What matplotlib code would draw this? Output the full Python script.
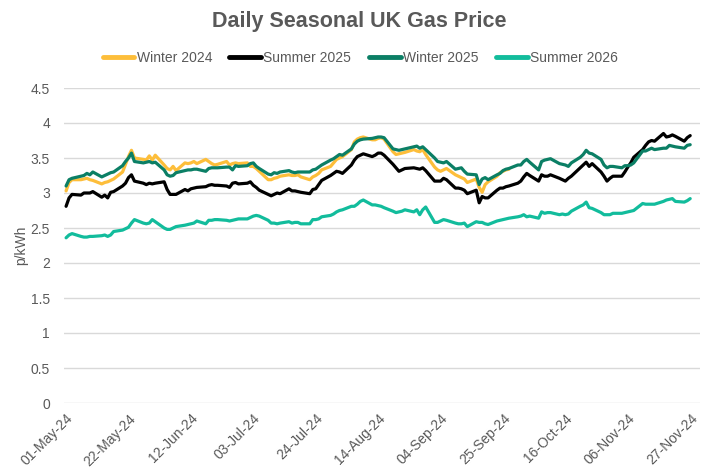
import matplotlib
matplotlib.use("Agg")
import matplotlib.pyplot as plt
import pandas as pd
import numpy as np

plt.rcParams['font.family'] = ['Liberation Sans', 'DejaVu Sans']

dates = pd.bdate_range('2024-05-01', '2024-11-27')

series_names = ['Winter 2024', 'Summer 2025', 'Winter 2025', 'Summer 2026']

winter_2024 = [
    3.03, 3.15, 3.19, 3.19, 3.20, 3.21, 3.19, 3.18, 3.13, 3.15, 3.16, 3.18, 3.20, 3.30, 3.41, 3.52, 3.61, 3.50, 3.48, 3.47, 3.53, 3.47, 3.54,
    3.40, 3.35, 3.33, 3.38, 3.32, 3.43, 3.42, 3.43, 3.45, 3.42, 3.48, 3.45, 3.42, 3.40, 3.41, 3.45, 3.40, 3.42, 3.43, 3.42,
    3.43, 3.38, 3.38, 3.35, 3.31, 3.19, 3.19, 3.21, 3.22, 3.24, 3.26, 3.25, 3.25, 3.26, 3.23, 3.19, 3.23, 3.25, 3.28, 3.33, 3.38, 3.43, 3.48,
    3.50, 3.52, 3.62, 3.73, 3.77, 3.79, 3.80, 3.76, 3.76, 3.78, 3.79, 3.77, 3.59, 3.55, 3.56, 3.57, 3.58, 3.62, 3.60, 3.59, 3.62, 3.55,
    3.37, 3.33, 3.31, 3.33, 3.35, 3.26, 3.24, 3.22, 3.20, 3.15, 3.20, 3.08, 3.01, 3.12, 3.16, 3.24, 3.29, 3.31, 3.33, 3.34,
]

summer_2025 = [
    2.81, 2.93, 2.98, 2.97, 3.00, 3.00, 3.00, 3.02, 2.94, 2.97, 2.93, 3.01, 3.02, 3.10, 3.14, 3.22, 3.26, 3.17, 3.14, 3.12, 3.14, 3.13, 3.14,
    3.16, 3.05, 2.98, 2.98, 2.98, 3.05, 3.03, 3.06, 3.07, 3.08, 3.09, 3.11, 3.12, 3.11, 3.11, 3.10, 3.08, 3.14, 3.15, 3.13,
    3.14, 3.16, 3.11, 3.08, 3.04, 2.98, 2.96, 2.98, 3.00, 2.99, 3.06, 3.03, 3.03, 3.02, 3.01, 2.99, 3.05, 3.06, 3.12, 3.18, 3.25, 3.28, 3.31,
    3.30, 3.28, 3.40, 3.47, 3.52, 3.54, 3.56, 3.52, 3.54, 3.57, 3.57, 3.54, 3.41, 3.36, 3.31, 3.33, 3.35, 3.36, 3.35, 3.34, 3.36, 3.32,
    3.17, 3.17, 3.17, 3.21, 3.19, 3.07, 3.07, 3.06, 3.04, 2.99, 3.04, 2.86, 2.95, 2.93, 2.93, 3.04, 3.07, 3.07, 3.09, 3.10, 3.14,
    3.17, 3.23, 3.28, 3.25, 3.17, 3.26, 3.24, 3.24, 3.26, 3.21, 3.19, 3.17, 3.21, 3.24, 3.36, 3.40, 3.44, 3.38, 3.42, 3.30, 3.24, 3.17, 3.21,
    3.24, 3.24, 3.30, 3.37, 3.43, 3.51, 3.62, 3.68, 3.73, 3.75, 3.74, 3.85, 3.80, 3.81, 3.83, 3.81, 3.74, 3.79, 3.82,
]

winter_2025 = [
    3.10, 3.19, 3.21, 3.24, 3.25, 3.28, 3.26, 3.30, 3.23, 3.25, 3.27, 3.29, 3.30, 3.39, 3.45, 3.50, 3.57, 3.45, 3.43, 3.44, 3.45, 3.43, 3.44,
    3.33, 3.26, 3.24, 3.25, 3.29, 3.32, 3.33, 3.33, 3.34, 3.34, 3.31, 3.35, 3.36, 3.36, 3.36, 3.37, 3.37, 3.33, 3.39, 3.38,
    3.39, 3.42, 3.43, 3.38, 3.35, 3.27, 3.26, 3.29, 3.28, 3.30, 3.32, 3.30, 3.29, 3.30, 3.30, 3.30, 3.33, 3.34, 3.37, 3.40, 3.47, 3.49, 3.52,
    3.55, 3.54, 3.63, 3.70, 3.74, 3.76, 3.77, 3.78, 3.79, 3.80, 3.80, 3.79, 3.63, 3.62, 3.61, 3.62, 3.63, 3.66, 3.67, 3.64, 3.66, 3.62,
    3.50, 3.45, 3.44, 3.43, 3.45, 3.34, 3.35, 3.36, 3.31, 3.27, 3.26, 3.12, 3.20, 3.22, 3.19, 3.26, 3.28, 3.32, 3.34, 3.35, 3.40,
    3.40, 3.45, 3.48, 3.44, 3.33, 3.45, 3.47, 3.48, 3.49, 3.42, 3.41, 3.40, 3.38, 3.43, 3.51, 3.55, 3.61, 3.57, 3.56, 3.48, 3.40, 3.36, 3.38,
    3.38, 3.36, 3.39, 3.39, 3.40, 3.43, 3.60, 3.60, 3.62, 3.64, 3.62, 3.64, 3.64, 3.68, 3.67, 3.66, 3.64, 3.68, 3.69,
]

summer_2026 = [
    2.36, 2.40, 2.42, 2.38, 2.37, 2.37, 2.38, 2.38, 2.39, 2.40, 2.38, 2.40, 2.45, 2.47, 2.49, 2.51, 2.57, 2.62, 2.57, 2.56, 2.57, 2.62, 2.59,
    2.50, 2.48, 2.48, 2.50, 2.52, 2.54, 2.55, 2.56, 2.57, 2.60, 2.56, 2.61, 2.61, 2.62, 2.62, 2.61, 2.60, 2.61, 2.62, 2.63,
    2.63, 2.65, 2.67, 2.68, 2.67, 2.61, 2.57, 2.57, 2.56, 2.57, 2.59, 2.57, 2.58, 2.58, 2.56, 2.56, 2.62, 2.62, 2.63, 2.66, 2.68, 2.70, 2.73,
    2.75, 2.76, 2.81, 2.81, 2.84, 2.88, 2.90, 2.83, 2.83, 2.82, 2.81, 2.79, 2.74, 2.72, 2.73, 2.74, 2.76, 2.73, 2.76, 2.69, 2.76, 2.80,
    2.58, 2.58, 2.60, 2.62, 2.61, 2.57, 2.56, 2.56, 2.57, 2.52, 2.59, 2.58, 2.58, 2.56, 2.55, 2.60, 2.61, 2.62, 2.63, 2.64, 2.66,
    2.67, 2.69, 2.66, 2.67, 2.64, 2.73, 2.71, 2.72, 2.72, 2.69, 2.70, 2.69, 2.70, 2.74, 2.81, 2.83, 2.87, 2.79, 2.78, 2.72, 2.69, 2.69, 2.69,
    2.71, 2.71, 2.72, 2.73, 2.74, 2.75, 2.85, 2.84, 2.84, 2.84, 2.84, 2.88, 2.90, 2.91, 2.92, 2.88, 2.87, 2.89, 2.92,
]

colors = ['#FDBE3A', '#000000', '#0B7F65', '#12BC9C']
y_ticks = [0, 0.5, 1, 1.5, 2, 2.5, 3, 3.5, 4, 4.5]
y_tick_labels = ['0', '0.5', '1', '1.5', '2', '2.5', '3', '3.5', '4', '4.5']

fig = plt.figure(figsize=(7.1, 4.73), dpi=100)
ax = fig.add_axes([64/710, 1-403/473, (700-64)/710, (403-88)/473])

all_series = [winter_2024, summer_2025, winter_2025, summer_2026]
for name, vals, c in zip(series_names, all_series, colors):
    ax.plot(dates[:len(vals)], vals, color=c, lw=2.3, label=name,
            solid_joinstyle='round', solid_capstyle='round')

ax.set_ylim(0, 4.5)
ax.set_yticks(y_ticks)
ax.set_yticklabels(y_tick_labels)
start = pd.Timestamp('2024-05-01')
ax.set_xlim(start - pd.Timedelta(days=0.7), start + pd.Timedelta(days=213.3))
xticks = pd.date_range(start, periods=11, freq='21D')
ax.set_xticks(xticks)
ax.set_xticklabels([d.strftime('%d-%b-%y') for d in xticks], rotation=45,
                   ha='right', rotation_mode='anchor')

ax.grid(axis='y', color='#D9D9D9', lw=1)
ax.set_axisbelow(True)
for s in ax.spines.values():
    s.set_visible(False)
ax.tick_params(axis='both', length=0, labelsize=10, labelcolor='#595959')
ax.tick_params(axis='x', pad=6)
ax.tick_params(axis='y', pad=10)
ax.set_ylabel('p/kWh', fontsize=10, color='#595959', labelpad=2)

fig.text(359/710, 1-22/473, 'Daily Seasonal UK Gas Price', ha='center', va='center',
         fontsize=15.5, fontweight='bold', color='#595959')

leg = fig.legend(loc='center', bbox_to_anchor=(360/710, 1-58/473), ncol=4,
                 frameon=False, fontsize=10, handlelength=2.3, handletextpad=0.15,
                 columnspacing=1.25)
for t in leg.get_texts():
    t.set_color('#595959')
for l in leg.get_lines():
    l.set_linewidth(3.5)

fig.savefig('out.png', dpi=100)
